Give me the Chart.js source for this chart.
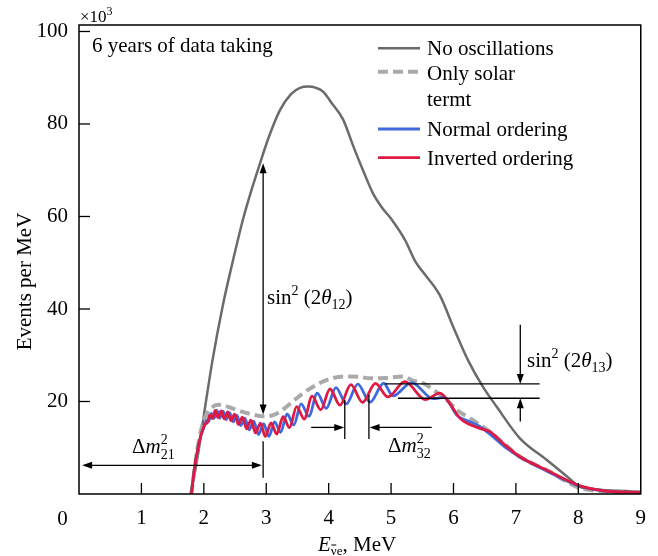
<!DOCTYPE html>
<html>
<head>
<meta charset="utf-8">
<script src="https://cdn.jsdelivr.net/npm/chart.js@4.4.1/dist/chart.umd.min.js"></script>
<style>
  body { margin: 0; background: #fff; }
  #wrap { width: 658px; height: 556px; }
</style>
</head>
<body>
<div id="wrap"><canvas id="chart" width="658" height="556"></canvas></div>
<script>
// Energia (MeV) e eventos por MeV (x10^3)
const noOscE = [1.79, 1.9, 2.0, 2.14, 2.3, 2.45, 2.63, 2.77, 2.9, 3.05, 3.22, 3.4, 3.54, 3.67, 3.8, 3.91, 4.05, 4.23, 4.4, 4.55, 4.71, 4.85, 5.0, 5.22, 5.4, 5.54, 5.78, 6.0, 6.23, 6.47, 6.69, 7.06, 7.49, 7.8, 8.02, 8.3, 9.0];
const noOscV = [0, 8, 17, 29, 40.5, 49.5, 59.5, 66, 71.5, 77.5, 83, 86.5, 87.8, 88.1, 87.8, 87, 84.5, 81, 75, 70, 65, 62, 59.5, 55, 50, 47.5, 43, 36, 29, 23.2, 18.9, 12.1, 7.4, 4, 1.6, 1, 0.5];

const solarE = [1.8, 1.9, 2.0, 2.1, 2.23, 2.4, 2.52, 2.75, 2.95, 3.1, 3.22, 3.4, 3.59, 3.86, 4.05, 4.29, 4.5, 4.66, 4.9, 5.19, 5.35, 5.51, 5.7, 5.89, 6.05, 6.26, 6.58, 6.8, 7.06, 7.49, 8.02, 8.4, 9.0];
const solarV = [0, 10, 16, 18.3, 19.3, 18.8, 18.2, 17.3, 16.8, 17.0, 17.8, 19.7, 21.8, 24.0, 25.0, 25.4, 25.3, 25.0, 25.1, 25.4, 24.5, 24.0, 22.3, 20.4, 18.2, 16.4, 13.5, 11.0, 8.1, 5.2, 1.3, 0.6, 0.3];

const normalE = [1.8, 1.85, 1.9, 1.95, 2.0, 2.038, 2.076, 2.121, 2.162, 2.21, 2.256, 2.307, 2.358, 2.413, 2.469, 2.529, 2.591, 2.657, 2.726, 2.799, 2.876, 2.957, 3.043, 3.134, 3.23, 3.333, 3.442, 3.558, 3.683, 3.817, 3.961, 4.116, 4.284, 4.466, 4.664, 4.881, 5.03, 5.33, 5.672, 5.85, 6.05, 6.26, 6.42, 6.63, 6.85, 7.06, 7.49, 8.02, 8.4, 9.0];
const normalV = [0, 5.5, 9.5, 12.5, 14.3, 15.85, 15.6, 17.45, 16.35, 18.1, 16.4, 17.9, 16.1, 17.6, 15.6, 17.05, 14.8, 16.4, 13.85, 15.75, 12.85, 15.2, 12.45, 15.6, 13.35, 17.3, 14.95, 19.5, 16.8, 21.8, 18.5, 23.0, 19.5, 23.75, 19.85, 23.95, 21.2, 24.1, 20.6, 20.9, 17.1, 15.6, 14.6, 12.4, 9.9, 8.0, 5.0, 1.7, 0.7, 0.3];

const invertedE = [1.8, 1.85, 1.9, 1.95, 2.015, 2.054, 2.095, 2.137, 2.182, 2.228, 2.277, 2.327, 2.38, 2.435, 2.493, 2.553, 2.618, 2.684, 2.754, 2.828, 2.907, 2.985, 3.077, 3.168, 3.27, 3.373, 3.487, 3.607, 3.735, 3.873, 4.021, 4.182, 4.355, 4.543, 4.749, 4.95, 5.22, 5.55, 5.78, 5.95, 6.1, 6.26, 6.42, 6.58, 6.79, 7.06, 7.49, 8.02, 8.4, 9.0];
const invertedV = [0, 5.5, 9.5, 12.5, 15.0, 15.4, 17.1, 16.3, 18.05, 16.5, 17.95, 16.25, 17.75, 15.85, 17.25, 15.05, 16.6, 14.1, 15.95, 13.2, 15.3, 12.45, 15.35, 12.95, 16.7, 14.35, 18.9, 16.2, 21.15, 18.2, 22.7, 19.2, 23.65, 19.8, 23.9, 21.0, 24.3, 20.4, 21.8, 19.4, 16.4, 15.0, 14.2, 13.5, 11.0, 8.1, 5.2, 1.8, 0.7, 0.3];

const xTicks = [0, 1, 2, 3, 4, 5, 6, 7, 8, 9];
const yTicks = [20, 40, 60, 80, 100];

const toPoints = (xs, ys) => xs.map((x, i) => ({ x: x, y: ys[i] }));

const SERIF = "'Liberation Serif', 'Times New Roman', serif";
const font = (size, italic) => `${italic ? 'italic ' : ''}${size}px ${SERIF}`;

// Desenha uma sequencia de trechos de texto (sub/sobrescritos)
const drawRuns = (ctx, x, y, runs) => {
    ctx.textBaseline = 'alphabetic';
    ctx.textAlign = 'left';
    runs.forEach(r => {
        if (r.stack) {
            let w = 0;
            r.stack.forEach(s => {
                ctx.font = font(s.s, s.it);
                ctx.fillText(s.t, x, y + (s.dy || 0));
                w = Math.max(w, ctx.measureText(s.t).width);
            });
            x += w;
            return;
        }
        ctx.font = font(r.s, r.it);
        ctx.fillText(r.t, x, y + (r.dy || 0));
        x += ctx.measureText(r.t).width;
    });
    return x;
};

const arrowHead = (ctx, x1, y1, x2, y2) => {
    const a = Math.atan2(y2 - y1, x2 - x1);
    const len = 10, hw = 3.5;
    ctx.beginPath();
    ctx.moveTo(x2, y2);
    ctx.lineTo(x2 - len * Math.cos(a) + hw * Math.sin(a), y2 - len * Math.sin(a) - hw * Math.cos(a));
    ctx.lineTo(x2 - len * Math.cos(a) - hw * Math.sin(a), y2 - len * Math.sin(a) + hw * Math.cos(a));
    ctx.closePath();
    ctx.fill();
};

const line = (ctx, x1, y1, x2, y2) => {
    ctx.beginPath();
    ctx.moveTo(x1, y1);
    ctx.lineTo(x2, y2);
    ctx.stroke();
};

const annotations = {
    id: 'annotations',
    afterDraw(chart) {
        const ctx = chart.ctx;
        const a = chart.chartArea;
        const X = v => chart.scales.x.getPixelForValue(v);
        const Y = v => chart.scales.y.getPixelForValue(v);
        ctx.save();
        ctx.strokeStyle = '#000';
        ctx.fillStyle = '#000';

        // moldura e ticks internos
        ctx.lineWidth = 1.5;
        ctx.strokeRect(a.left, a.top, a.right - a.left, a.bottom - a.top);
        ctx.lineWidth = 1.3;
        xTicks.slice(1, -1).forEach(v => line(ctx, X(v), a.bottom, X(v), a.bottom - 11));
        yTicks.forEach(v => line(ctx, a.left, Y(v), a.left + 11, Y(v)));

        // origem e fator de escala
        ctx.font = font(21);
        ctx.textAlign = 'center';
        ctx.textBaseline = 'alphabetic';
        ctx.fillText('0', 62.5, 525);
        drawRuns(ctx, 80, 22, [{ t: '×10', s: 17 }, { t: '3', s: 12, dy: -7 }]);

        // titulos dos eixos
        ctx.save();
        ctx.translate(31, 281.5);
        ctx.rotate(-Math.PI / 2);
        ctx.font = font(21);
        ctx.textAlign = 'center';
        ctx.fillText('Events per MeV', 0, 0);
        ctx.restore();
        let ex = drawRuns(ctx, 318, 551, [{ t: 'E', s: 21, it: true }]);
        const nuX = ex;
        ex = drawRuns(ctx, ex, 555, [{ t: 'ν', s: 13 }]);
        ctx.lineWidth = 1;
        line(ctx, nuX + 0.5, 545, ex - 0.5, 545);
        ex = drawRuns(ctx, ex, 555, [{ t: 'e', s: 13 }]);
        drawRuns(ctx, ex, 551, [{ t: ', MeV', s: 21 }]);

        drawRuns(ctx, 92, 52, [{ t: '6 years of data taking', s: 21 }]);

        // legenda
        const legend = [
            { y: 48.3, color: '#6b6b6b', w: 2.5, dash: [], text: ['No oscillations'], base: [54.5] },
            { y: 71.7, color: '#aaaaaa', w: 4, dash: [10, 5], text: ['Only solar', 'termt'], base: [79.5, 105.5] },
            { y: 129, color: '#3f69dc', w: 2.8, dash: [], text: ['Normal ordering'], base: [135.5] },
            { y: 157.7, color: '#de1a42', w: 2.8, dash: [], text: ['Inverted ordering'], base: [165] }
        ];
        legend.forEach(l => {
            ctx.strokeStyle = l.color;
            ctx.lineWidth = l.w;
            ctx.setLineDash(l.dash);
            line(ctx, 378, l.y, 420, l.y);
            ctx.setLineDash([]);
            l.text.forEach((t, i) => drawRuns(ctx, 427, l.base[i], [{ t: t, s: 21 }]));
        });

        ctx.strokeStyle = '#000';
        ctx.lineWidth = 1.3;

        // sin^2(2 theta_12)
        const x12 = X(2.95);
        line(ctx, x12, Y(18.5), x12, Y(70));
        arrowHead(ctx, x12, Y(30), x12, Y(71.5));
        arrowHead(ctx, x12, Y(30), x12, Y(17.2));
        drawRuns(ctx, 267, 303.5, [
            { t: 'sin', s: 21 }, { t: '2', s: 14, dy: -9 }, { t: ' (2', s: 21 },
            { t: 'θ', s: 21, it: true }, { t: '12', s: 14, dy: 5 }, { t: ')', s: 21 }
        ]);

        // Delta m^2_21
        line(ctx, x12, Y(11.4), x12, Y(3.5));
        line(ctx, X(0.1), Y(6.2), X(2.88), Y(6.2));
        arrowHead(ctx, X(1), Y(6.2), X(0.05), Y(6.2));
        arrowHead(ctx, X(1), Y(6.2), X(2.93), Y(6.2));
        drawRuns(ctx, 132, 453, [
            { t: 'Δ', s: 21 }, { t: 'm', s: 21, it: true },
            { stack: [{ t: '2', s: 14, dy: -9 }, { t: '21', s: 14, dy: 6 }] }
        ]);

        // Delta m^2_32
        line(ctx, X(4.258), Y(20.3), X(4.258), Y(11.9));
        line(ctx, X(4.645), Y(21.4), X(4.645), Y(11.9));
        line(ctx, X(3.72), Y(14.4), X(4.2), Y(14.4));
        arrowHead(ctx, X(3.72), Y(14.4), X(4.25), Y(14.4));
        line(ctx, X(5.65), Y(14.4), X(4.7), Y(14.4));
        arrowHead(ctx, X(5.65), Y(14.4), X(4.655), Y(14.4));
        drawRuns(ctx, 388, 452, [
            { t: 'Δ', s: 21 }, { t: 'm', s: 21, it: true },
            { stack: [{ t: '2', s: 14, dy: -9 }, { t: '32', s: 14, dy: 6 }] }
        ]);

        // sin^2(2 theta_13)
        line(ctx, X(4.9), Y(23.8), X(7.38), Y(23.8));
        line(ctx, X(5.11), Y(20.7), X(7.38), Y(20.7));
        line(ctx, X(7.07), Y(36.6), X(7.07), Y(24.5));
        arrowHead(ctx, X(7.07), Y(36.6), X(7.07), Y(23.8));
        line(ctx, X(7.07), Y(15.7), X(7.07), Y(20));
        arrowHead(ctx, X(7.07), Y(15.7), X(7.07), Y(20.7));
        drawRuns(ctx, 527, 367, [
            { t: 'sin', s: 21 }, { t: '2', s: 14, dy: -9 }, { t: ' (2', s: 21 },
            { t: 'θ', s: 21, it: true }, { t: '13', s: 14, dy: 5 }, { t: ')', s: 21 }
        ]);

        ctx.restore();
    }
};

Chart.defaults.font.family = SERIF;
Chart.defaults.font.size = 21;
Chart.defaults.color = '#000';

const series = (label, xs, ys, color, width, order, dash) => ({
    label: label,
    data: toPoints(xs, ys),
    borderColor: color,
    borderWidth: width,
    borderDash: dash || [],
    pointRadius: 0,
    fill: false,
    cubicInterpolationMode: 'monotone',
    order: order
});

new Chart(document.getElementById('chart'), {
    type: 'line',
    data: {
        datasets: [
            series('Inverted ordering', invertedE, invertedV, '#de1a42', 2.8, 0),
            series('Normal ordering', normalE, normalV, '#3f69dc', 2.8, 1),
            series('Only solar termt', solarE, solarV, '#aaaaaa', 4, 2, [10, 5]),
            series('No oscillations', noOscE, noOscV, '#6b6b6b', 2.5, 3)
        ]
    },
    options: {
        responsive: false,
        animation: false,
        layout: { padding: { top: 25, right: 17, left: 0, bottom: 0 } },
        scales: {
            x: {
                type: 'linear',
                min: 0,
                max: 9,
                afterFit: s => { s.height = 62; },
                grid: { display: false, drawTicks: false },
                border: { display: false },
                ticks: {
                    stepSize: 1,
                    padding: 12,
                    maxRotation: 0,
                    callback: v => v === 0 ? '' : v
                }
            },
            y: {
                min: 0,
                max: 101.4,
                afterFit: s => { s.width = 79; },
                grid: { display: false, drawTicks: false },
                border: { display: false },
                ticks: {
                    stepSize: 20,
                    padding: 11,
                    includeBounds: false,
                    callback: v => v === 0 ? '' : v
                }
            }
        },
        plugins: {
            legend: { display: false },
            tooltip: { enabled: false }
        }
    },
    plugins: [annotations]
});
</script>
</body>
</html>
